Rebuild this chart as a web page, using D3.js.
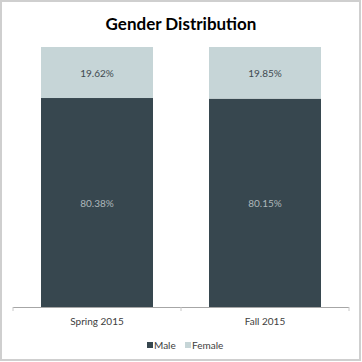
<!DOCTYPE html>
<html>
<head>
<meta charset="utf-8">
<script src="https://cdn.jsdelivr.net/npm/d3@7"></script>
<style>
  body { margin: 0; background: #fff; }
</style>
</head>
<body>
<div id="viz"></div>
<script>
// chart data
var categories = ["Spring 2015", "Fall 2015"];
var maleValues = [80.38, 80.15];
var femaleValues = [19.62, 19.85];
var seriesNames = ["Male", "Female"];

var width = 362, height = 362;
var plotLeft = 13, plotRight = 349, plotTop = 47, plotBottom = 307;
var colors = { Male: "#37474f", Female: "#c6d5d7" };
var font = "Lato, 'Open Sans', sans-serif";

var svg = d3.select("#viz").append("svg")
    .attr("width", width)
    .attr("height", height);

// outer frame
svg.append("rect")
    .attr("x", 1).attr("y", 1)
    .attr("width", width - 3).attr("height", height - 3)
    .attr("fill", "#fff")
    .attr("stroke", "#cfcfcf")
    .attr("stroke-width", 2);

svg.append("text")
    .attr("x", 181).attr("y", 30)
    .attr("text-anchor", "middle")
    .attr("style", "font-family: " + font + "; font-size: 17px; font-weight: bold; fill: #000;")
    .text("Gender Distribution");

var xscale = d3.scaleBand()
    .domain(categories)
    .range([plotLeft, plotRight])
    .paddingInner(1 / 3)
    .paddingOuter(1 / 6);

var yscale = d3.scaleLinear()
    .domain([0, 100])
    .range([plotBottom, plotTop]);

var rows = categories.map(function(c, i) {
    return { cat: c, Male: maleValues[i], Female: femaleValues[i] };
});
var stacked = d3.stack().keys(seriesNames)(rows);

var groups = svg.selectAll(".series")
    .data(stacked)
    .enter().append("g")
    .attr("fill", function(d) { return colors[d.key]; });

groups.selectAll("rect")
    .data(function(d) { return d; })
    .enter().append("rect")
    .attr("x", function(d) { return xscale(d.data.cat); })
    .attr("y", function(d) { return yscale(d[1]); })
    .attr("width", xscale.bandwidth())
    .attr("height", function(d) { return yscale(d[0]) - yscale(d[1]); });

groups.each(function(s) {
    d3.select(this).selectAll("text")
        .data(s)
        .enter().append("text")
        .attr("x", function(d) { return xscale(d.data.cat) + xscale.bandwidth() / 2; })
        .attr("y", function(d) { return (yscale(d[0]) + yscale(d[1])) / 2 + 4; })
        .attr("text-anchor", "middle")
        .attr("style", "font-family: " + font + "; font-size: 10px; fill: " + (s.key === "Male" ? "#aeb7bb" : "#404a50") + ";")
        .text(function(d) { return d.data[s.key].toFixed(2) + "%"; });
});

// x axis with ticks at the band boundaries
var axis = svg.append("g");
axis.append("line")
    .attr("x1", plotLeft).attr("x2", plotRight)
    .attr("y1", plotBottom + 0.5).attr("y2", plotBottom + 0.5)
    .attr("stroke", "#a6a6a6");
var tickPos = [plotLeft, (xscale(categories[0]) + xscale.bandwidth() + xscale(categories[1])) / 2, plotRight];
axis.selectAll(".tick")
    .data(tickPos)
    .enter().append("line")
    .attr("x1", function(d) { return d; }).attr("x2", function(d) { return d; })
    .attr("y1", plotBottom).attr("y2", plotBottom + 4)
    .attr("stroke", "#c8c8c8");
axis.selectAll(".label")
    .data(categories)
    .enter().append("text")
    .attr("x", function(d) { return xscale(d) + xscale.bandwidth() / 2; })
    .attr("y", 325)
    .attr("text-anchor", "middle")
    .attr("style", "font-family: " + font + "; font-size: 10px; fill: #404040;")
    .text(function(d) { return d; });

// legend
var legendX = [147, 185];
var legend = svg.selectAll(".legend")
    .data(seriesNames)
    .enter().append("g")
    .attr("transform", function(d, i) { return "translate(" + legendX[i] + ",349)"; });
legend.append("rect")
    .attr("x", 0).attr("y", -7)
    .attr("width", 6).attr("height", 6)
    .attr("fill", function(d) { return colors[d]; });
legend.append("text")
    .attr("x", 7).attr("y", 0)
    .attr("style", "font-family: " + font + "; font-size: 10px; fill: #404040;")
    .text(function(d) { return d; });
</script>
</body>
</html>
